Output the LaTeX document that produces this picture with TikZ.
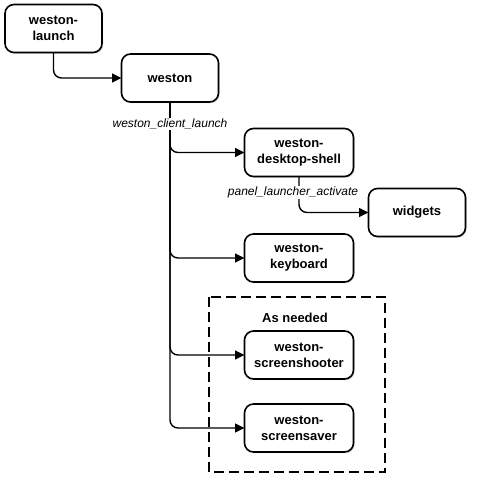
\documentclass[tikz,border=0pt]{standalone}
\usepackage{fontspec}
\setmainfont{Liberation Sans}
\usetikzlibrary{positioning}
\usetikzlibrary{arrows.meta}
\usetikzlibrary{shadows}

\begin{document}
\begin{tikzpicture}[
    every node/.style={font=\fontsize{13}{16}\selectfont\bfseries},
    proc/.style={draw, line width=1.6pt, rounded corners=9pt, fill=white,
      align=center, minimum width=97pt, minimum height=48pt, inner sep=2pt,
      outer sep=0pt,
      drop shadow={shadow xshift=1.2pt, shadow yshift=-1.2pt, opacity=0.35}},
    client/.style={proc, minimum width=109pt},
    call/.style={line width=1.4pt, rounded corners=8pt,
      -{Triangle[length=9.5pt,width=9pt]}},
    fn/.style={font=\fontsize{12}{14}\selectfont\itshape, fill=white, inner sep=1pt},
  ]
  \useasboundingbox (0,0) rectangle (477pt,-479pt);

  \node [proc] (launch) at (53.5pt,-28.5pt) {weston-\\launch};
  \node [proc, below right=1.5pt and 19.5pt of launch] (weston) {weston};

  \node [client, below right=26.5pt and 26pt of weston] (desktop) {weston-\\desktop-shell};
  \node [proc, below right=12pt and 15pt of desktop] (widgets) {widgets};
  \node [client, below=57.5pt of desktop] (keyboard) {weston-\\keyboard};
  \node [client, below=49pt of keyboard] (shooter) {weston-\\screenshooter};
  \node [client, below=25pt of shooter] (saver) {weston-\\screensaver};

  % clients started on demand
  \draw [line width=1.6pt, dash pattern=on 10pt off 5pt]
    ([xshift=-35.5pt,yshift=34pt]shooter.north west) rectangle
    ([xshift=31.5pt,yshift=-20pt]saver.south east);
  \node [above=5pt of shooter, xshift=-4pt] (needed) {As needed};

  \draw [call] (launch.south) |- (weston.west);

  \draw [call] (weston.south) |- (desktop.west);
  \draw [call] (weston.south) |- (keyboard.west);
  \draw [call] (weston.south) |- (shooter.west);
  \draw [call] (weston.south) |- (saver.west);
  \node [fn] (clientlaunch) at ([yshift=-22pt]weston.south) {weston\_client\_launch};

  \draw [call] (desktop.south) |- (widgets.west);
  \node [fn] (activate) at ([xshift=-6pt,yshift=-16pt]desktop.south) {panel\_launcher\_activate};

\end{tikzpicture}
\end{document}
